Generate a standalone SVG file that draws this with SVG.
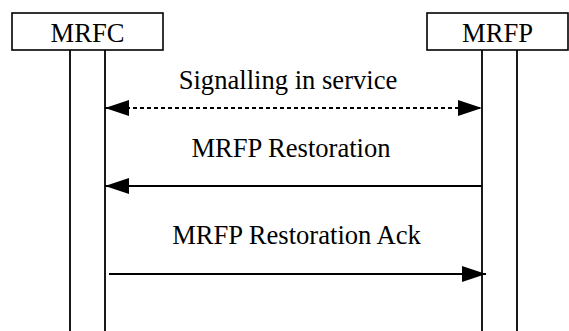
<svg xmlns="http://www.w3.org/2000/svg" width="569" height="331" viewBox="0 0 569 331">
<defs>
<style>
.box{fill:#fff;stroke:#000;stroke-width:1.6}
.life{stroke:#000;stroke-width:1.8;fill:none}
.msg{stroke:#000;stroke-width:1.8;fill:none}
.dash{stroke-dasharray:4 3}
text{font-family:'Liberation Serif','Times New Roman','DejaVu Serif',serif;font-size:26.6px;fill:#000;text-anchor:middle}
</style>
<marker id="ah" viewBox="0 0 24 16" refX="24" refY="8" markerWidth="24" markerHeight="16" markerUnits="userSpaceOnUse" orient="auto-start-reverse">
<path d="M0,0 L24,8 L0,16 Z" fill="#000"/>
</marker>
</defs>
<rect width="569" height="331" fill="#fff"/>
<g id="mrfc">
<rect class="box" x="12" y="13" width="151" height="37"/>
<text x="87.5" y="42" font-family="Liberation Serif, serif">MRFC</text>
<line class="life" x1="70" y1="50" x2="70" y2="331"/>
<line class="life" x1="105" y1="50" x2="105" y2="331"/>
</g>
<g id="mrfp">
<rect class="box" x="427" y="13" width="141" height="37"/>
<text x="497.5" y="42" font-family="Liberation Serif, serif">MRFP</text>
<line class="life" x1="482" y1="50" x2="482" y2="331"/>
<line class="life" x1="517" y1="50" x2="517" y2="331"/>
</g>
<g id="connectors" font-family="Liberation Serif, serif">
<line class="msg dash" x1="105" y1="108" x2="482" y2="108" marker-start="url(#ah)" marker-end="url(#ah)"/>
<text x="288" y="89">Signalling in service</text>
<line class="msg" x1="482" y1="186" x2="105" y2="186" marker-end="url(#ah)"/>
<text x="291" y="157">MRFP Restoration</text>
<line class="msg" x1="109" y1="274" x2="486" y2="274" marker-end="url(#ah)"/>
<text x="296.5" y="244">MRFP Restoration Ack</text>
</g>
</svg>
